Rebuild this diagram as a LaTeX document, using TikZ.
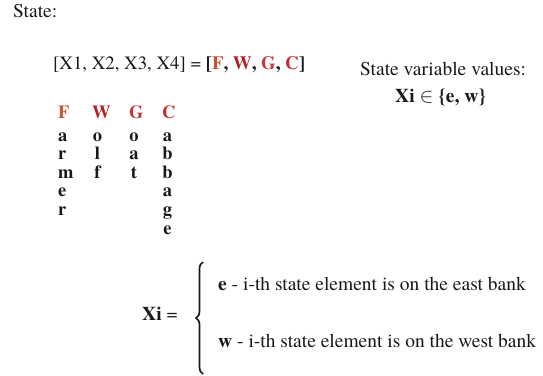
\documentclass[tikz,border=0pt]{standalone}
\usepackage{fontspec}
\setmainfont{texgyretermes}[Extension=.otf,UprightFont=*-regular,BoldFont=*-bold,ItalicFont=*-italic,BoldItalicFont=*-bolditalic]
\usetikzlibrary{decorations.pathreplacing}
\definecolor{cF}{RGB}{205,80,50}
\definecolor{cW}{RGB}{180,30,35}
\definecolor{cG}{RGB}{195,55,55}
\definecolor{cC}{RGB}{195,45,45}
\definecolor{ink}{RGB}{25,25,25}
\begin{document}
\begin{tikzpicture}[x=1pt,y=1pt,
  txt/.style={inner sep=0pt,anchor=base west,text=ink,font=\fontsize{19.5}{23}\selectfont},
  hdr/.style={inner sep=0pt,anchor=base west,font=\fontsize{18.5}{22}\selectfont\bfseries},
  let/.style={inner sep=0pt,anchor=base,text=ink,font=\fontsize{18.5}{22}\selectfont\bfseries},
  letw/.style={let,anchor=base west}]
\useasboundingbox (0,0) rectangle (543,-375);
\node[txt] (state) at (13,-17.5) {State:};
\node[txt,font=\fontsize{18.8}{22}\selectfont] (eq) at (53,-69) {[X1, X2, X3, X4] = \textbf{[\textcolor{cF}{F}, \textcolor{cW}{W}, \textcolor{cG}{G}, \textcolor{cC}{C}]}};
\node[txt] (svv) at (360,-75) {State variable values:};
\node[txt] (dom) at (395,-102) {\textbf{Xi} $\in$ \textbf{\{e, w\}}};
% headers
\node[hdr,text=cF] (hF) at (58,-118) {F};
\node[hdr,text=cW] (hW) at (92,-118) {W};
\node[hdr,text=cG] (hG) at (129,-118) {G};
\node[hdr,text=cC] (hC) at (162,-118) {C};
% columns
\foreach \c [count=\i] in {a,r,m,e,r}
  \node[letw] (f\i) at (58,{-141-18.6*(\i-1)}) {\c};
\foreach \c [count=\i] in {o,l,f}
  \node[let] (w\i) at (97.5,{-141-18.6*(\i-1)}) {\c};
\foreach \c [count=\i] in {o,a,t}
  \node[let] (g\i) at (134,{-141-18.6*(\i-1)}) {\c};
\foreach \c [count=\i] in {a,b,b,a,g,e}
  \node[let] (c\i) at (167.5,{-141-18.6*(\i-1)}) {\c};
% definition
\node[txt] (xi) at (142,-320) {\textbf{Xi} =};
\coordinate (bb) at (203,-374);
\coordinate (bt) at (203,-262);
\draw[ink,line width=1.7pt,decorate,decoration={brace,amplitude=7pt}] (bb) -- (bt);
\node[txt] (east) at (218,-290) {\textbf{e} - i-th state element is on the east bank};
\node[txt] (west) at (218,-347) {\textbf{w} - i-th state element is on the west bank};
\end{tikzpicture}
\end{document}
